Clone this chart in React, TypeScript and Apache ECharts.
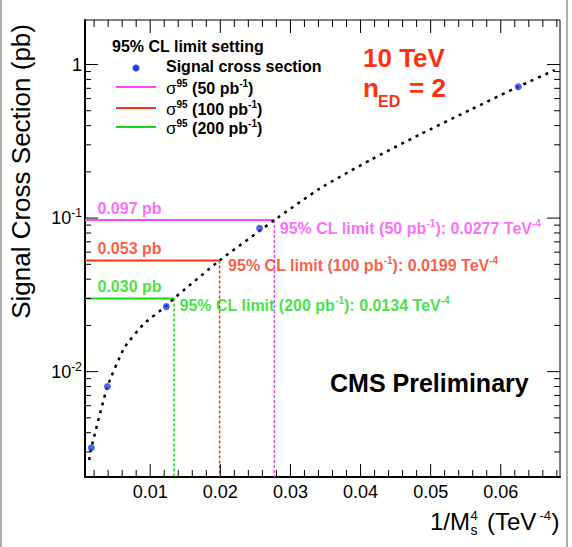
import React, { useEffect, useRef } from 'react';
import * as echarts from 'echarts';

const FONT = '"Liberation Sans", Arial, Helvetica, sans-serif';

// axis ranges
const xMin = 0.0007;
const xMax = 0.06845;
const yMin = 0.00206;
const yMax = 1.95;

// signal cross section points (1/Ms^4 in TeV^-4, pb)
const sigX = [0.0016, 0.0039, 0.0123, 0.0256, 0.0625];
const sigY = [0.00319, 0.008, 0.0265, 0.0858, 0.717];

// dotted fit curve
const curveX = [0.0013, 0.0016, 0.0039, 0.0063, 0.0091, 0.0123, 0.0134, 0.0199, 0.0277, 0.0342, 0.0414, 0.0485, 0.0556, 0.0625, 0.0677];
const curveY = [0.00266, 0.00319, 0.008, 0.0143, 0.0205, 0.0268, 0.03, 0.053, 0.097, 0.156, 0.239, 0.351, 0.506, 0.717, 0.921];

// 95% CL limits
const limitLumi = ['50', '100', '200'];
const limitX = [0.0277, 0.0199, 0.0134];
const limitY = [0.097, 0.053, 0.03];
const limitXText = ['0.0277', '0.0199', '0.0134'];
const limitYText = ['0.097', '0.053', '0.030'];

// tick positions
const xMajorTicks = [0.01, 0.02, 0.03, 0.04, 0.05, 0.06];
const xMinorTicks = [0.002, 0.004, 0.006, 0.008, 0.012, 0.014, 0.016, 0.018, 0.022, 0.024, 0.026, 0.028, 0.032, 0.034, 0.036, 0.038, 0.042, 0.044, 0.046, 0.048, 0.052, 0.054, 0.056, 0.058, 0.062, 0.064, 0.066, 0.068];
const yMajorTicks = [0.01, 0.1, 1];
const yMinorTicks = [0.003, 0.004, 0.005, 0.006, 0.007, 0.008, 0.009, 0.02, 0.03, 0.04, 0.05, 0.06, 0.07, 0.08, 0.09, 0.2, 0.3, 0.4, 0.5, 0.6, 0.7, 0.8, 0.9];

// styles
const limitColors = ['#ff44ff', '#ff3311', '#11dd11'];
const sigColor = '#1a40e8';
const rightLabelOffsets = [[5, 8], [8, 5], [5, 7]];

export default function App() {
  const ref = useRef<HTMLDivElement>(null);
  useEffect(() => {
    document.body.style.margin = '0';
    const chart = echarts.init(ref.current!, null, { renderer: 'svg' });

    const tickData: number[][] = [];
    xMajorTicks.forEach((x) => { tickData.push([x, yMin, 0, 13]); tickData.push([x, yMax, 1, 13]); });
    xMinorTicks.forEach((x) => { tickData.push([x, yMin, 0, 7]); tickData.push([x, yMax, 1, 7]); });
    yMajorTicks.forEach((y) => { tickData.push([xMin, y, 2, 13]); tickData.push([xMax, y, 3, 13]); });
    yMinorTicks.forEach((y) => { tickData.push([xMin, y, 2, 6]); tickData.push([xMax, y, 3, 6]); });

    const series: any[] = [];

    limitX.forEach((lx, i) => {
      const ly = limitY[i];
      const c = limitColors[i];
      series.push({
        type: 'line', data: [[xMin, ly], [lx, ly]], showSymbol: false, silent: true,
        lineStyle: { color: c, width: 2 }, z: 3,
      });
      series.push({
        type: 'line', data: [[lx, ly], [lx, yMin]], showSymbol: false, silent: true,
        lineStyle: { color: c, width: 1.5, type: [3, 2] }, z: 3,
      });
      series.push({
        type: 'scatter', data: [[xMin, ly]], symbolSize: 1, silent: true,
        itemStyle: { color: 'rgba(0,0,0,0)' }, z: 6,
        label: {
          show: true, position: 'right', distance: 0, offset: [12, -12],
          formatter: limitYText[i] + ' pb', color: c, fontSize: 16, fontWeight: 'bold', fontFamily: FONT,
        },
      });
      series.push({
        type: 'scatter', data: [[lx, ly]], symbolSize: 1, silent: true,
        itemStyle: { color: 'rgba(0,0,0,0)' }, z: 6,
        label: {
          show: true, position: 'right', distance: 0, offset: rightLabelOffsets[i],
          formatter: '95% CL limit (' + limitLumi[i] + ' pb{sup|-1}): ' + limitXText[i] + ' TeV{sup|-4}',
          color: c, fontSize: 16, fontWeight: 'bold', fontFamily: FONT, lineHeight: 20,
          rich: { sup: { fontSize: 10, fontWeight: 'bold', color: c, fontFamily: FONT, verticalAlign: 'top', lineHeight: 10 } },
        },
      });
    });

    series.push({
      type: 'line', data: curveX.map((x, i) => [x, curveY[i]]), showSymbol: false, silent: true,
      smooth: 0.15,
      lineStyle: { color: '#000', width: 2.5, type: [3, 5] }, z: 4,
    });
    series.push({
      type: 'scatter', data: sigX.map((x, i) => [x, sigY[i]]), symbolSize: 7, silent: true,
      itemStyle: { color: sigColor }, z: 5,
    });
    series.push({
      type: 'custom', data: tickData, silent: true, z: 10,
      renderItem: (params: any, api: any) => {
        const x = api.value(0), y = api.value(1), side = api.value(2), len = api.value(3);
        const p = api.coord([x, y]);
        let x2 = p[0], y2 = p[1];
        if (side === 0) y2 -= len; else if (side === 1) y2 += len; else if (side === 2) x2 += len; else x2 -= len;
        return { type: 'line', shape: { x1: p[0], y1: p[1], x2, y2 }, style: { stroke: '#000', lineWidth: 1 } };
      },
    });

    const txt = (x: number, y: number, text: string, fontSize: number, extra: any = {}) => ({
      type: 'text', x, y, z: 20,
      style: {
        text, fontSize, fontFamily: FONT, fill: '#000', fontWeight: 'normal',
        align: 'left', textAlign: 'left', verticalAlign: 'middle', textVerticalAlign: 'middle', ...extra,
      },
    });

    const legendEntries = ['50', '100', '200'];
    const legendY = [88, 109, 128];
    const graphic: any[] = [
      { type: 'line', shape: { x1: 1, y1: 0, x2: 1, y2: 547 }, style: { stroke: '#b0b0b0', lineWidth: 2 } },
      { type: 'line', shape: { x1: 567, y1: 0, x2: 567, y2: 547 }, style: { stroke: '#b0b0b0', lineWidth: 2 } },
      txt(112, 46, '95% CL limit setting', 16, { fontWeight: 'bold' }),
      { type: 'circle', shape: { cx: 136, cy: 68, r: 3.5 }, style: { fill: sigColor }, z: 20 },
      txt(166, 66, 'Signal cross section', 16, { fontWeight: 'bold' }),
    ];
    legendEntries.forEach((l, i) => {
      graphic.push({ type: 'line', shape: { x1: 116, y1: legendY[i] - 1, x2: 156, y2: legendY[i] - 1 }, style: { stroke: limitColors[i], lineWidth: 2 }, z: 20 });
      graphic.push(txt(166, legendY[i], '{sig|σ}{sup|95} (' + l + ' pb{sup|-1})', 16, {
        fontWeight: 'bold', lineHeight: 20,
        rich: {
          sig: { fontSize: 17, fontWeight: 'normal', fontFamily: FONT, lineHeight: 20 },
          sup: { fontSize: 10, fontWeight: 'bold', fontFamily: FONT, verticalAlign: 'top', lineHeight: 10 },
        },
      }));
    });
    graphic.push(txt(363, 57.5, '10 TeV', 26, { fontWeight: 'bold', fill: '#ff3010' }));
    graphic.push(txt(363, 88, 'n', 26, { fontWeight: 'bold', fill: '#ff3010' }));
    graphic.push(txt(378, 101.5, 'ED', 16, { fontWeight: 'bold', fill: '#ff3010' }));
    graphic.push(txt(409, 88, '= 2', 26, { fontWeight: 'bold', fill: '#ff3010' }));
    graphic.push(txt(330, 383, 'CMS Preliminary', 25, { fontWeight: 'bold' }));
    // y title
    graphic.push({
      type: 'text', x: 21, y: 24, rotation: Math.PI / 2, z: 20,
      style: { text: 'Signal Cross Section (pb)', fontSize: 26, fontFamily: FONT, fill: '#000', align: 'right', textAlign: 'right', verticalAlign: 'middle', textVerticalAlign: 'middle' },
    });
    // x title
    graphic.push(txt(470, 521, '1/M', 24, { align: 'right', textAlign: 'right' }));
    graphic.push(txt(470.5, 515, '4', 13));
    graphic.push(txt(470.5, 530, 's', 14));
    graphic.push(txt(487, 521, '(TeV', 24));
    graphic.push(txt(539.5, 515, '-4', 13));
    graphic.push(txt(551.5, 521, ')', 24));

    const option: any = {
      animation: false,
      backgroundColor: '#fff',
      grid: { left: 85, right: 12, top: 20, bottom: 70, show: true, borderColor: '#000', borderWidth: 1, backgroundColor: 'transparent' },
      xAxis: {
        type: 'value', min: xMin, max: xMax, splitNumber: 6,
        axisLine: { show: true, onZero: false, lineStyle: { color: '#000', width: 2 } },
        axisTick: { show: false }, splitLine: { show: false },
        axisLabel: {
          color: '#000', fontSize: 18, fontFamily: FONT, margin: 6, hideOverlap: false,
          formatter: (v: number) => (Math.abs(v / 0.01 - Math.round(v / 0.01)) < 1e-6 && v > 0.005 ? v.toFixed(2) : ''),
        },
      },
      yAxis: {
        type: 'log', logBase: 10, min: yMin, max: yMax,
        axisLine: { show: true, lineStyle: { color: '#000', width: 2 } },
        axisTick: { show: false }, splitLine: { show: false }, minorTick: { show: false },
        axisLabel: {
          color: '#000', fontSize: 18, fontFamily: FONT, margin: 3, lineHeight: 22, hideOverlap: false,
          formatter: (v: number) => {
            const l = Math.log10(v);
            const e = Math.round(l);
            if (Math.abs(l - e) > 1e-6) return '';
            return e === 0 ? '1' : '10{sup|' + e + '}';
          },
          rich: { sup: { fontSize: 12, fontFamily: FONT, color: '#000', verticalAlign: 'top', lineHeight: 12 } },
        },
      },
      series,
      graphic,
    };
    chart.setOption(option);
    return () => chart.dispose();
  }, []);
  return <div ref={ref} style={{ width: 572, height: 547, background: '#fff' }} />;
}
